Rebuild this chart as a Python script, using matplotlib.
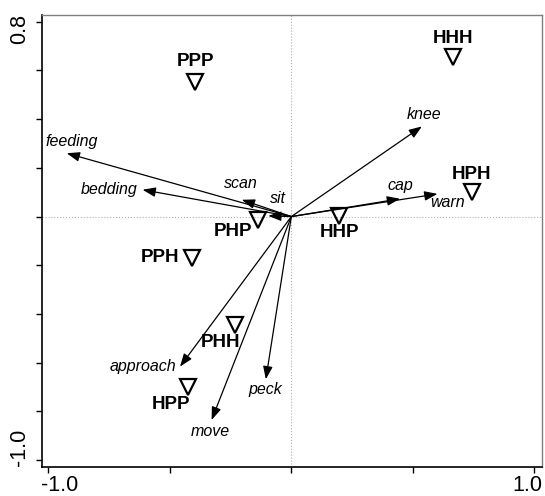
import matplotlib
matplotlib.use('Agg')
import matplotlib.pyplot as plt

plt.rcParams['font.family'] = ['Liberation Sans', 'DejaVu Sans']

# sample scores (triangles)
site_names = ['PPP', 'HHH', 'HPH', 'HHP', 'PHP', 'PPH', 'PHH', 'HPP']
site_x = [-0.396, 0.664, 0.742, 0.198, -0.136, -0.410, -0.232, -0.424]
site_y = [0.554, 0.657, 0.099, 0.003, -0.016, -0.171, -0.445, -0.701]
# where each site label sits
site_lx = [-0.396, 0.665, 0.741, 0.200, -0.240, -0.540, -0.293, -0.494]
site_ly = [0.635, 0.732, 0.171, -0.066, -0.062, -0.170, -0.517, -0.770]

# behaviour vectors (arrows)
beh_names = ['feeding', 'bedding', 'scan', 'sit', 'knee', 'cap', 'warn',
             'approach', 'peck', 'move']
beh_x = [-0.924, -0.612, -0.204, -0.095, 0.537, 0.447, 0.601, -0.458, -0.105, -0.328]
beh_y = [0.260, 0.110, 0.069, 0.003, 0.370, 0.073, 0.093, -0.616, -0.668, -0.835]
beh_lx = [-0.905, -0.748, -0.209, -0.057, 0.546, 0.447, 0.643, -0.610, -0.108, -0.333]
beh_ly = [0.307, 0.110, 0.134, 0.073, 0.418, 0.126, 0.056, -0.617, -0.708, -0.882]

fig = plt.figure(figsize=(5.45, 4.96), dpi=100)
ax = fig.add_axes([0.0765, 0.059, 0.9175, 0.911])
ax.set_xlim(-1.027, 1.030)
ax.set_ylim(-1.027, 0.828)

ax.axhline(0, color='#b0b0b0', lw=0.8, ls=':', zorder=0)
ax.axvline(0, color='#b0b0b0', lw=0.8, ls=':', zorder=0)

for name, x, y, lx, ly in zip(beh_names, beh_x, beh_y, beh_lx, beh_ly):
    ax.annotate('', xy=(x, y), xytext=(0, 0),
                arrowprops=dict(arrowstyle='-|>,head_length=0.65,head_width=0.24',
                                color='black', lw=0.9, shrinkA=0, shrinkB=0,
                                mutation_scale=12))
    ax.text(lx, ly, name, style='italic', fontsize=11.5,
            ha='center', va='center')

ax.plot(site_x, site_y, 'v', ms=11, mfc='none', mec='black', mew=1.6)
for name, lx, ly in zip(site_names, site_lx, site_ly):
    ax.text(lx, ly, name, fontweight='bold', fontsize=13.5,
            ha='center', va='center')

ax.set_xticks([-1.0, -0.5, 0.0, 0.5, 1.0])
ax.set_yticks([-1.0, -0.8, -0.6, -0.4, -0.2, 0.0, 0.2, 0.4, 0.6, 0.8])
ax.set_xticklabels([])
ax.set_yticklabels([])
ax.tick_params(direction='out', length=4, width=1, color='black')

# axis end labels, set a bit inward like the original
ax.text(-0.952, -0.0425, '-1.0', transform=ax.get_xaxis_transform(),
        fontsize=15.5, ha='center', va='center')
ax.text(0.970, -0.0425, '1.0', transform=ax.get_xaxis_transform(),
        fontsize=15.5, ha='center', va='center')
ax.text(-0.0435, 0.77, '0.8', transform=ax.get_yaxis_transform(),
        fontsize=15.5, ha='center', va='center', rotation=90)
ax.text(-0.0435, -0.946, '-1.0', transform=ax.get_yaxis_transform(),
        fontsize=15.5, ha='center', va='center', rotation=90)

for side in ['left', 'bottom']:
    ax.spines[side].set_color('black')
    ax.spines[side].set_linewidth(1.2)
for side in ['top', 'right']:
    ax.spines[side].set_color('#808080')
    ax.spines[side].set_linewidth(1.0)

fig.savefig('out.png', dpi=100)
